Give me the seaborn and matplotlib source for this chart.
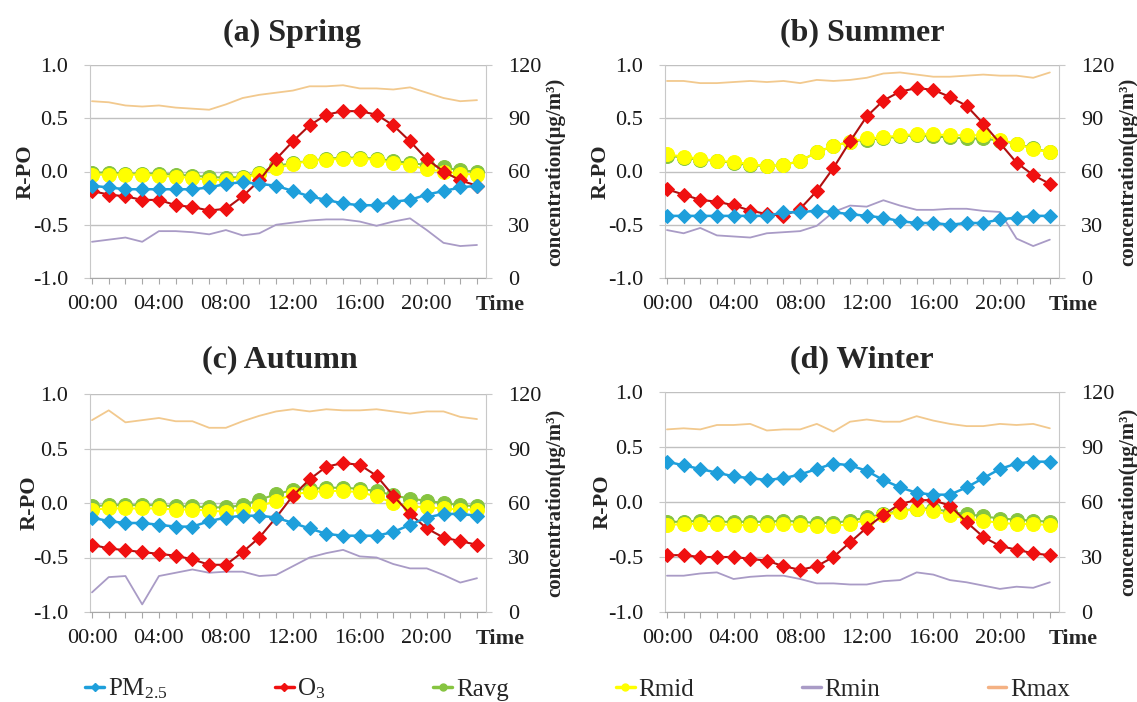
import numpy as np
import pandas as pd
import matplotlib
matplotlib.use('Agg')
import matplotlib.pyplot as plt
from matplotlib.lines import Line2D
import seaborn as sns

# hours of the day
hours = list(range(24))
hour_labels = ['00:00', '04:00', '08:00', '12:00', '16:00', '20:00']

# ---- Spring ----
pm_spring = [52, 51, 50, 50, 50, 50, 50, 51, 53, 54, 53, 52, 49, 46, 44, 42, 41, 41, 43, 44, 47, 49, 51, 52]
o3_spring = [49, 47, 46, 44, 44, 41, 40, 38, 39, 46, 55, 67, 77, 86, 92, 94, 94, 92, 86, 77, 67, 60, 55, 52]
ravg_spring = [-0.01, -0.01, -0.02, -0.02, -0.02, -0.03, -0.04, -0.05, -0.06, -0.05, -0.01, 0.05,
               0.08, 0.10, 0.12, 0.13, 0.13, 0.12, 0.10, 0.08, 0.06, 0.04, 0.01, 0.0]
rmid_spring = [-0.03, -0.03, -0.03, -0.03, -0.04, -0.05, -0.06, -0.08, -0.08, -0.06, -0.02, 0.03,
               0.07, 0.10, 0.11, 0.12, 0.12, 0.11, 0.08, 0.06, 0.02, 0.0, -0.02, -0.03]
rmin_spring = [-0.66, -0.64, -0.62, -0.66, -0.56, -0.56, -0.57, -0.59, -0.55, -0.60, -0.58, -0.50,
               -0.48, -0.46, -0.45, -0.45, -0.47, -0.51, -0.47, -0.44, -0.55, -0.67, -0.70, -0.69]
rmax_spring = [0.66, 0.65, 0.62, 0.61, 0.62, 0.60, 0.59, 0.58, 0.63, 0.69, 0.72, 0.74,
               0.76, 0.80, 0.80, 0.81, 0.78, 0.78, 0.77, 0.79, 0.74, 0.69, 0.66, 0.67]

# ---- Summer ----
pm_summer = [35, 35, 35, 35, 35, 35, 35, 37, 37, 38, 37, 36, 35, 34, 32, 31, 31, 30, 31, 31, 33, 34, 35, 35]
o3_summer = [50, 47, 44, 43, 41, 38, 36, 35, 39, 49, 62, 77, 91, 100, 105, 107, 106, 102, 97, 87, 76, 65, 58, 53]
ravg_summer = [0.15, 0.13, 0.11, 0.10, 0.08, 0.06, 0.05, 0.06, 0.10, 0.18, 0.24, 0.28,
               0.30, 0.31, 0.33, 0.34, 0.33, 0.32, 0.31, 0.31, 0.29, 0.26, 0.22, 0.18]
rmid_summer = [0.16, 0.14, 0.12, 0.10, 0.09, 0.07, 0.05, 0.06, 0.10, 0.18, 0.24, 0.28,
               0.31, 0.32, 0.34, 0.35, 0.35, 0.34, 0.34, 0.34, 0.30, 0.26, 0.21, 0.18]
rmin_summer = [-0.55, -0.58, -0.53, -0.60, -0.61, -0.62, -0.58, -0.57, -0.56, -0.51, -0.38, -0.32,
               -0.33, -0.27, -0.32, -0.36, -0.36, -0.35, -0.35, -0.37, -0.38, -0.63, -0.70, -0.64]
rmax_summer = [0.85, 0.85, 0.83, 0.83, 0.84, 0.85, 0.84, 0.85, 0.83, 0.86, 0.85, 0.86,
               0.88, 0.92, 0.93, 0.91, 0.89, 0.89, 0.90, 0.91, 0.90, 0.90, 0.88, 0.93]

# ---- Autumn ----
pm_autumn = [52, 50, 49, 49, 48, 47, 47, 50, 52, 53, 53, 52, 49, 46, 43, 42, 42, 42, 44, 48, 52, 54, 54, 53]
o3_autumn = [37, 35, 34, 33, 32, 31, 29, 26, 26, 33, 41, 52, 64, 73, 80, 82, 81, 75, 64, 54, 46, 41, 39, 37]
ravg_autumn = [-0.03, -0.02, -0.02, -0.02, -0.02, -0.03, -0.03, -0.04, -0.04, -0.02, 0.03, 0.08,
               0.12, 0.13, 0.14, 0.14, 0.13, 0.11, 0.07, 0.04, 0.02, 0.0, -0.02, -0.03]
rmid_autumn = [-0.06, -0.05, -0.05, -0.05, -0.05, -0.06, -0.06, -0.07, -0.08, -0.06, -0.03, 0.02,
               0.08, 0.10, 0.11, 0.11, 0.10, 0.06, 0.0, -0.03, -0.04, -0.05, -0.06, -0.06]
rmin_autumn = [-0.82, -0.68, -0.67, -0.93, -0.67, -0.64, -0.61, -0.64, -0.63, -0.63, -0.67, -0.66,
               -0.58, -0.50, -0.46, -0.43, -0.49, -0.50, -0.56, -0.60, -0.60, -0.66, -0.73, -0.69]
rmax_autumn = [0.76, 0.85, 0.74, 0.76, 0.78, 0.75, 0.75, 0.69, 0.69, 0.75, 0.80, 0.84,
               0.86, 0.84, 0.86, 0.85, 0.85, 0.86, 0.84, 0.82, 0.84, 0.84, 0.79, 0.77]

# ---- Winter ----
pm_winter = [82, 80, 78, 76, 74, 73, 72, 73, 75, 78, 81, 80, 77, 72, 68, 65, 64, 64, 68, 73, 78, 81, 82, 82]
o3_winter = [31, 31, 30, 30, 30, 29, 28, 25, 23, 25, 30, 38, 46, 53, 59, 61, 61, 58, 49, 41, 36, 34, 32, 31]
ravg_winter = [-0.18, -0.18, -0.17, -0.18, -0.18, -0.18, -0.18, -0.17, -0.18, -0.19, -0.19, -0.17,
               -0.14, -0.11, -0.08, -0.06, -0.06, -0.09, -0.11, -0.13, -0.15, -0.16, -0.17, -0.18]
rmid_winter = [-0.21, -0.20, -0.20, -0.20, -0.21, -0.21, -0.21, -0.20, -0.21, -0.22, -0.22, -0.20,
               -0.16, -0.12, -0.09, -0.06, -0.08, -0.12, -0.15, -0.17, -0.19, -0.20, -0.20, -0.21]
rmin_winter = [-0.67, -0.67, -0.65, -0.64, -0.70, -0.68, -0.67, -0.67, -0.70, -0.74, -0.74, -0.75,
               -0.75, -0.72, -0.71, -0.64, -0.66, -0.71, -0.73, -0.76, -0.79, -0.77, -0.78, -0.73]
rmax_winter = [0.66, 0.67, 0.66, 0.70, 0.70, 0.71, 0.65, 0.66, 0.66, 0.71, 0.64, 0.73,
               0.75, 0.73, 0.73, 0.78, 0.74, 0.71, 0.69, 0.69, 0.71, 0.70, 0.71, 0.67]

titles = ['(a) Spring', '(b) Summer', '(c) Autumn', '(d) Winter']

seasons = [
    (pm_spring, o3_spring, ravg_spring, rmid_spring, rmin_spring, rmax_spring),
    (pm_summer, o3_summer, ravg_summer, rmid_summer, rmin_summer, rmax_summer),
    (pm_autumn, o3_autumn, ravg_autumn, rmid_autumn, rmin_autumn, rmax_autumn),
    (pm_winter, o3_winter, ravg_winter, rmid_winter, rmin_winter, rmax_winter),
]

# colours
c_pm = '#1E9FDB'
c_o3_line = '#B01010'
c_o3_mark = '#F01010'
c_avg = '#86C440'
c_mid = '#FFFF00'
c_min = '#A99BC6'
c_max = '#F2C98E'
c_grid = '#C0C0C0'

sns.set_style('white')
plt.rcParams['font.family'] = ['Liberation Serif', 'DejaVu Serif']
plt.rcParams['mathtext.fontset'] = 'custom'
plt.rcParams['mathtext.rm'] = 'Liberation Serif'
plt.rcParams['mathtext.default'] = 'regular'

W, H = 1137, 702
fig = plt.figure(figsize=(W / 100, H / 100), dpi=100)

# panel boxes in pixels: left, top, right, bottom
boxes = [(90.3, 65, 486.2, 278), (665.3, 65, 1059.0, 278),
         (90.3, 394, 486.2, 612), (665.3, 392, 1059.0, 612)]
title_y = [33, 33, 360, 360]
title_x = [292, 862, 280, 862]
ylab_x = [-0.138, -0.140, -0.128, -0.135]

tick_fs = 16
for i, (box, (pm, o3, ravg, rmid, rmin, rmax)) in enumerate(zip(boxes, seasons)):
    l, t, r, b = box
    ax = fig.add_axes([l / W, 1 - b / H, (r - l) / W, (b - t) / H])
    df = pd.DataFrame({'hour': hours, 'pm': pm, 'o3': o3, 'ravg': ravg,
                       'rmid': rmid, 'rmin': rmin, 'rmax': rmax})

    sns.lineplot(data=df, x='hour', y='rmax', ax=ax, color=c_max, linewidth=1.3)
    sns.lineplot(data=df, x='hour', y='rmin', ax=ax, color=c_min, linewidth=1.3)
    sns.lineplot(data=df, x='hour', y='ravg', ax=ax, color=c_avg, linewidth=1.5,
                 marker='o', markersize=10, markerfacecolor=c_avg, markeredgecolor=c_avg)
    sns.lineplot(data=df, x='hour', y='rmid', ax=ax, color=c_mid, linewidth=1.5,
                 marker='o', markersize=10, markerfacecolor=c_mid, markeredgecolor=c_mid)

    ax.set_xlim(-0.1, 23.55)
    ax.set_ylim(-1.0, 1.0)
    ax.set_yticks([-1.0, -0.5, 0.0, 0.5, 1.0])
    ax.set_yticklabels(['-1.0', '-0.5', '0.0', '0.5', '1.0'])
    ax.set_xticks(hours)
    ax.set_xticklabels([hour_labels[h // 4] if h % 4 == 0 else '' for h in hours])
    ax.grid(axis='y', color=c_grid, linewidth=1.0)
    ax.grid(axis='x', visible=False)
    ax.spines['top'].set_visible(False)
    ax.spines['left'].set_color('#C8C8C8')
    ax.spines['right'].set_visible(False)
    ax.spines['bottom'].set_color('#A8A8A8')
    ax.tick_params(axis='x', direction='out', length=4, color='#A8A8A8', labelsize=tick_fs,
                   pad=8, labelcolor='#1a1a1a', bottom=True)
    ax.tick_params(axis='y', direction='out', length=4, color='#C8C8C8', labelsize=tick_fs,
                   pad=12, labelcolor='#1a1a1a', left=True)
    ax.set_xlabel('')
    ax.set_ylabel('R-PO', fontsize=16, fontweight='bold')
    ax.yaxis.set_label_coords(ylab_x[i], 0.5)

    ax2 = ax.twinx()
    sns.lineplot(data=df, x='hour', y='o3', ax=ax2, color=c_o3_line, linewidth=1.5,
                 marker='D', markersize=7, markerfacecolor=c_o3_mark, markeredgecolor=c_o3_mark)
    sns.lineplot(data=df, x='hour', y='pm', ax=ax2, color=c_pm, linewidth=1.8,
                 marker='D', markersize=7, markerfacecolor=c_pm, markeredgecolor=c_pm)
    ax2.set_xlim(-0.1, 23.55)
    ax2.set_ylim(0, 120)
    ax2.set_yticks([0, 30, 60, 90, 120])
    for s in ['top', 'left', 'bottom']:
        ax2.spines[s].set_visible(False)
    ax2.spines['right'].set_color('#C8C8C8')
    ax2.tick_params(axis='y', direction='out', length=4, color='#C8C8C8', labelsize=tick_fs,
                    pad=12, labelcolor='#1a1a1a', right=True)
    ax2.set_xlabel('')
    ax2.set_ylabel('concentration(μg/m³)', fontsize=15, fontweight='bold')
    ax2.yaxis.set_label_coords(1.15, 0.5)
    ax2.grid(False)

    ax.text(1.035, -27 / (b - t), 'Time', transform=ax.transAxes, fontsize=16,
            fontweight='bold', ha='center', va='center')

    fig.text(title_x[i] / W, 1 - title_y[i] / H, titles[i], fontsize=23,
             fontweight='bold', ha='center', va='center')

handles = [
    Line2D([], [], color=c_pm, marker='D', markersize=4, linewidth=2.5),
    Line2D([], [], color=c_o3_mark, marker='D', markersize=4, linewidth=2.5),
    Line2D([], [], color=c_avg, marker='o', markersize=5, linewidth=2.5),
    Line2D([], [], color=c_mid, marker='o', markersize=5, linewidth=2.5),
    Line2D([], [], color=c_min, linewidth=2.5),
    Line2D([], [], color='#F4B183', linewidth=2.5),
]
labels = ['PM$_{2.5}$', 'O$_{3}$', 'Ravg', 'Rmid', 'Rmin', 'Rmax']
fig.legend(handles, labels, loc='center', bbox_to_anchor=(0.508, 1 - 689 / H), ncol=6,
           frameon=False, fontsize=18, handlelength=0.75, handletextpad=0.15,
           columnspacing=4.3)

fig.savefig('out.png', dpi=100)
